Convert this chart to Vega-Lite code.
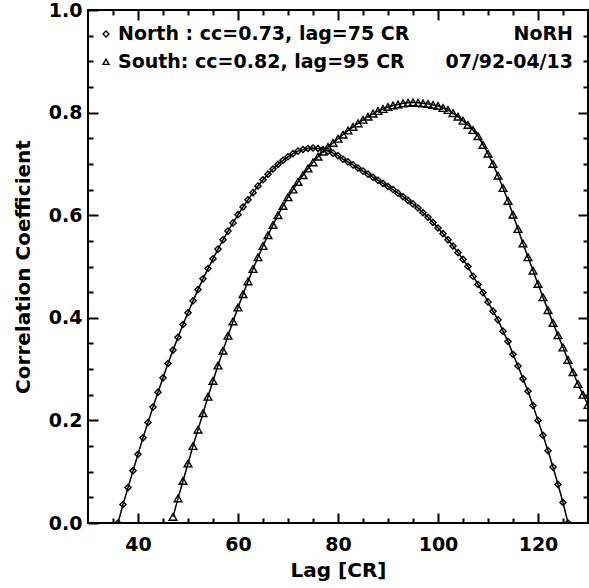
{
  "$schema": "https://vega.github.io/schema/vega-lite/v6.json",
  "width": 500,
  "height": 513,
  "autosize": {"type": "none"},
  "padding": {"left": 88, "top": 10, "right": 1, "bottom": 65},
  "background": "white",
  "config": {
    "view": {"stroke": "black", "strokeWidth": 2},
    "font": "DejaVu Sans",
    "axis": {"ticks": true, "tickOpacity": 1, "tickColor": "black", "tickWidth": 2, "tickDash": [], "tickOffset": 0, "tickBand": "center", "grid": false, "domain": false}
  },
  "datasets": {
    "curves": [
      {"series":"North","lag":36,"value":0.0},
      {"series":"North","lag":37,"value":0.036},
      {"series":"North","lag":38,"value":0.069},
      {"series":"North","lag":39,"value":0.102},
      {"series":"North","lag":40,"value":0.134},
      {"series":"North","lag":41,"value":0.166},
      {"series":"North","lag":42,"value":0.196},
      {"series":"North","lag":43,"value":0.226},
      {"series":"North","lag":44,"value":0.255},
      {"series":"North","lag":45,"value":0.283},
      {"series":"North","lag":46,"value":0.311},
      {"series":"North","lag":47,"value":0.337},
      {"series":"North","lag":48,"value":0.362},
      {"series":"North","lag":49,"value":0.387},
      {"series":"North","lag":50,"value":0.410},
      {"series":"North","lag":51,"value":0.433},
      {"series":"North","lag":52,"value":0.455},
      {"series":"North","lag":53,"value":0.476},
      {"series":"North","lag":54,"value":0.496},
      {"series":"North","lag":55,"value":0.515},
      {"series":"North","lag":56,"value":0.534},
      {"series":"North","lag":57,"value":0.552},
      {"series":"North","lag":58,"value":0.569},
      {"series":"North","lag":59,"value":0.585},
      {"series":"North","lag":60,"value":0.601},
      {"series":"North","lag":61,"value":0.616},
      {"series":"North","lag":62,"value":0.630},
      {"series":"North","lag":63,"value":0.644},
      {"series":"North","lag":64,"value":0.657},
      {"series":"North","lag":65,"value":0.669},
      {"series":"North","lag":66,"value":0.680},
      {"series":"North","lag":67,"value":0.690},
      {"series":"North","lag":68,"value":0.699},
      {"series":"North","lag":69,"value":0.707},
      {"series":"North","lag":70,"value":0.714},
      {"series":"North","lag":71,"value":0.720},
      {"series":"North","lag":72,"value":0.725},
      {"series":"North","lag":73,"value":0.728},
      {"series":"North","lag":74,"value":0.730},
      {"series":"North","lag":75,"value":0.731},
      {"series":"North","lag":76,"value":0.730},
      {"series":"North","lag":77,"value":0.728},
      {"series":"North","lag":78,"value":0.725},
      {"series":"North","lag":79,"value":0.721},
      {"series":"North","lag":80,"value":0.716},
      {"series":"North","lag":81,"value":0.709},
      {"series":"North","lag":82,"value":0.704},
      {"series":"North","lag":83,"value":0.698},
      {"series":"North","lag":84,"value":0.692},
      {"series":"North","lag":85,"value":0.686},
      {"series":"North","lag":86,"value":0.680},
      {"series":"North","lag":87,"value":0.674},
      {"series":"North","lag":88,"value":0.668},
      {"series":"North","lag":89,"value":0.662},
      {"series":"North","lag":90,"value":0.656},
      {"series":"North","lag":91,"value":0.650},
      {"series":"North","lag":92,"value":0.643},
      {"series":"North","lag":93,"value":0.636},
      {"series":"North","lag":94,"value":0.629},
      {"series":"North","lag":95,"value":0.622},
      {"series":"North","lag":96,"value":0.614},
      {"series":"North","lag":97,"value":0.605},
      {"series":"North","lag":98,"value":0.596},
      {"series":"North","lag":99,"value":0.586},
      {"series":"North","lag":100,"value":0.575},
      {"series":"North","lag":101,"value":0.564},
      {"series":"North","lag":102,"value":0.552},
      {"series":"North","lag":103,"value":0.540},
      {"series":"North","lag":104,"value":0.527},
      {"series":"North","lag":105,"value":0.514},
      {"series":"North","lag":106,"value":0.500},
      {"series":"North","lag":107,"value":0.481},
      {"series":"North","lag":108,"value":0.465},
      {"series":"North","lag":109,"value":0.449},
      {"series":"North","lag":110,"value":0.431},
      {"series":"North","lag":111,"value":0.413},
      {"series":"North","lag":112,"value":0.396},
      {"series":"North","lag":113,"value":0.374},
      {"series":"North","lag":114,"value":0.354},
      {"series":"North","lag":115,"value":0.329},
      {"series":"North","lag":116,"value":0.306},
      {"series":"North","lag":117,"value":0.281},
      {"series":"North","lag":118,"value":0.257},
      {"series":"North","lag":119,"value":0.229},
      {"series":"North","lag":120,"value":0.200},
      {"series":"North","lag":121,"value":0.171},
      {"series":"North","lag":122,"value":0.141},
      {"series":"North","lag":123,"value":0.109},
      {"series":"North","lag":124,"value":0.075},
      {"series":"North","lag":125,"value":0.040},
      {"series":"North","lag":126,"value":0.0},
      {"series":"South","lag":47,"value":0.012},
      {"series":"South","lag":48,"value":0.048},
      {"series":"South","lag":49,"value":0.082},
      {"series":"South","lag":50,"value":0.116},
      {"series":"South","lag":51,"value":0.150},
      {"series":"South","lag":52,"value":0.182},
      {"series":"South","lag":53,"value":0.214},
      {"series":"South","lag":54,"value":0.246},
      {"series":"South","lag":55,"value":0.277},
      {"series":"South","lag":56,"value":0.307},
      {"series":"South","lag":57,"value":0.336},
      {"series":"South","lag":58,"value":0.365},
      {"series":"South","lag":59,"value":0.393},
      {"series":"South","lag":60,"value":0.420},
      {"series":"South","lag":61,"value":0.446},
      {"series":"South","lag":62,"value":0.471},
      {"series":"South","lag":63,"value":0.495},
      {"series":"South","lag":64,"value":0.518},
      {"series":"South","lag":65,"value":0.540},
      {"series":"South","lag":66,"value":0.561},
      {"series":"South","lag":67,"value":0.581},
      {"series":"South","lag":68,"value":0.600},
      {"series":"South","lag":69,"value":0.618},
      {"series":"South","lag":70,"value":0.635},
      {"series":"South","lag":71,"value":0.650},
      {"series":"South","lag":72,"value":0.665},
      {"series":"South","lag":73,"value":0.678},
      {"series":"South","lag":74,"value":0.691},
      {"series":"South","lag":75,"value":0.703},
      {"series":"South","lag":76,"value":0.714},
      {"series":"South","lag":77,"value":0.724},
      {"series":"South","lag":78,"value":0.733},
      {"series":"South","lag":79,"value":0.741},
      {"series":"South","lag":80,"value":0.749},
      {"series":"South","lag":81,"value":0.757},
      {"series":"South","lag":82,"value":0.765},
      {"series":"South","lag":83,"value":0.772},
      {"series":"South","lag":84,"value":0.779},
      {"series":"South","lag":85,"value":0.786},
      {"series":"South","lag":86,"value":0.792},
      {"series":"South","lag":87,"value":0.798},
      {"series":"South","lag":88,"value":0.803},
      {"series":"South","lag":89,"value":0.807},
      {"series":"South","lag":90,"value":0.811},
      {"series":"South","lag":91,"value":0.814},
      {"series":"South","lag":92,"value":0.816},
      {"series":"South","lag":93,"value":0.818},
      {"series":"South","lag":94,"value":0.819},
      {"series":"South","lag":95,"value":0.820},
      {"series":"South","lag":96,"value":0.819},
      {"series":"South","lag":97,"value":0.818},
      {"series":"South","lag":98,"value":0.817},
      {"series":"South","lag":99,"value":0.815},
      {"series":"South","lag":100,"value":0.813},
      {"series":"South","lag":101,"value":0.809},
      {"series":"South","lag":102,"value":0.805},
      {"series":"South","lag":103,"value":0.799},
      {"series":"South","lag":104,"value":0.792},
      {"series":"South","lag":105,"value":0.784},
      {"series":"South","lag":106,"value":0.776},
      {"series":"South","lag":107,"value":0.766},
      {"series":"South","lag":108,"value":0.754},
      {"series":"South","lag":109,"value":0.737},
      {"series":"South","lag":110,"value":0.720},
      {"series":"South","lag":111,"value":0.700},
      {"series":"South","lag":112,"value":0.677},
      {"series":"South","lag":113,"value":0.653},
      {"series":"South","lag":114,"value":0.628},
      {"series":"South","lag":115,"value":0.601},
      {"series":"South","lag":116,"value":0.573},
      {"series":"South","lag":117,"value":0.545},
      {"series":"South","lag":118,"value":0.518},
      {"series":"South","lag":119,"value":0.492},
      {"series":"South","lag":120,"value":0.466},
      {"series":"South","lag":121,"value":0.440},
      {"series":"South","lag":122,"value":0.415},
      {"series":"South","lag":123,"value":0.390},
      {"series":"South","lag":124,"value":0.366},
      {"series":"South","lag":125,"value":0.342},
      {"series":"South","lag":126,"value":0.318},
      {"series":"South","lag":127,"value":0.294},
      {"series":"South","lag":128,"value":0.271},
      {"series":"South","lag":129,"value":0.250},
      {"series":"South","lag":130,"value":0.230}
    ],
    "legendSymbols": [
      {"series":"North","lag":33.6,"value":0.953},
      {"series":"South","lag":33.6,"value":0.899}
    ],
    "leftNotes": [
      {"lag":36,"value":0.953,"text":"North : cc=0.73, lag=75 CR"},
      {"lag":36,"value":0.899,"text":"South: cc=0.82, lag=95 CR"}
    ],
    "rightNotes": [
      {"lag":127,"value":0.953,"text":"NoRH"},
      {"lag":127,"value":0.899,"text":"07/92-04/13"}
    ]
  },
  "layer": [
    {
      "data": {"name": "curves"},
      "mark": {"type": "line", "color": "black", "strokeWidth": 1.5, "clip": true},
      "encoding": {
        "x": {
          "field": "lag", "type": "quantitative",
          "scale": {"domain": [30, 130], "nice": false, "zero": false},
          "axis": {
            "orient": "bottom",
            "values": [40, 60, 80, 100, 120],
            "format": "d",
            "offset": -10,
            "ticks": true, "tickSize": 10, "tickColor": "black", "tickWidth": 2, "tickOpacity": 1, "tickDash": [], "tickOffset": 0, "tickBand": "center",
            "domain": false, "grid": false,
            "labelFont": "DejaVu Sans", "labelFontSize": 19, "labelFontWeight": "bold", "labelColor": "black",
            "labelPadding": 12, "labelFlush": false, "labelOverlap": false,
            "title": "Lag [CR]", "titleFont": "DejaVu Sans", "titleFontSize": 20, "titleFontWeight": "bold", "titleColor": "black", "titlePadding": 6
          }
        },
        "y": {
          "field": "value", "type": "quantitative",
          "scale": {"domain": [0, 1], "nice": false, "zero": false},
          "axis": {
            "orient": "left",
            "values": [0, 0.2, 0.4, 0.6, 0.8, 1.0],
            "format": ".1f",
            "offset": -10,
            "ticks": true, "tickSize": 10, "tickColor": "black", "tickWidth": 2, "tickOpacity": 1, "tickDash": [], "tickOffset": 0, "tickBand": "center",
            "domain": false, "grid": false,
            "labelFont": "DejaVu Sans", "labelFontSize": 19, "labelFontWeight": "bold", "labelColor": "black",
            "labelPadding": 6, "labelFlush": false, "labelOverlap": false,
            "title": "Correlation Coefficient", "titleFont": "DejaVu Sans", "titleFontSize": 20, "titleFontWeight": "bold", "titleColor": "black", "titlePadding": 15
          }
        },
        "detail": {"field": "series"}
      }
    },
    {
      "data": {"name": "curves"},
      "mark": {"type": "point", "filled": false, "color": "black", "strokeWidth": 1.4, "clip": true, "opacity": 1},
      "encoding": {
        "x": {
          "field": "lag", "type": "quantitative",
          "axis": {
            "orient": "top",
            "values": [40, 60, 80, 100, 120],
            "labels": false,
            "offset": -10,
            "ticks": true, "tickSize": 10, "tickColor": "black", "tickWidth": 2, "tickOpacity": 1, "tickDash": [], "tickOffset": 0, "tickBand": "center",
            "domain": false, "grid": false,
            "title": null
          }
        },
        "y": {
          "field": "value", "type": "quantitative",
          "axis": {
            "orient": "right",
            "values": [0.2, 0.4, 0.6, 0.8],
            "labels": false,
            "offset": -10,
            "ticks": true, "tickSize": 10, "tickColor": "black", "tickWidth": 2, "tickOpacity": 1, "tickDash": [], "tickOffset": 0, "tickBand": "center",
            "domain": false, "grid": false,
            "title": null
          }
        },
        "shape": {
          "field": "series", "type": "nominal",
          "scale": {"domain": ["North", "South"], "range": ["diamond", "triangle-up"]},
          "legend": null
        },
        "size": {
          "field": "series", "type": "nominal",
          "scale": {"domain": ["North", "South"], "range": [38, 60]},
          "legend": null
        }
      }
    },
    {
      "data": {"name": "legendSymbols"},
      "mark": {"type": "point", "filled": false, "color": "black", "size": 36, "strokeWidth": 1.4, "opacity": 1},
      "encoding": {
        "x": {
          "field": "lag", "type": "quantitative",
          "axis": {
            "orient": "bottom",
            "values": [35,45,50,55,65,70,75,85,90,95,105,110,115,125],
            "labels": false,
            "offset": -5,
            "ticks": true, "tickSize": 5, "tickColor": "black", "tickWidth": 2, "tickOpacity": 1, "tickDash": [], "tickOffset": 0, "tickBand": "center",
            "domain": false, "grid": false,
            "title": null
          }
        },
        "y": {
          "field": "value", "type": "quantitative",
          "axis": {
            "orient": "left",
            "values": [0.05,0.1,0.15,0.25,0.3,0.35,0.45,0.5,0.55,0.65,0.7,0.75,0.85,0.9,0.95],
            "labels": false,
            "offset": -5,
            "ticks": true, "tickSize": 5, "tickColor": "black", "tickWidth": 2, "tickOpacity": 1, "tickDash": [], "tickOffset": 0, "tickBand": "center",
            "domain": false, "grid": false,
            "title": null
          }
        },
        "shape": {"field": "series", "type": "nominal", "legend": null}
      }
    },
    {
      "data": {"name": "leftNotes"},
      "mark": {"type": "text", "align": "left", "baseline": "middle", "font": "DejaVu Sans", "fontSize": 19, "fontWeight": "bold", "color": "black"},
      "encoding": {
        "x": {
          "field": "lag", "type": "quantitative",
          "axis": {
            "orient": "top",
            "values": [35,45,50,55,65,70,75,85,90,95,105,110,115,125],
            "labels": false,
            "offset": -5,
            "ticks": true, "tickSize": 5, "tickColor": "black", "tickWidth": 2, "tickOpacity": 1, "tickDash": [], "tickOffset": 0, "tickBand": "center",
            "domain": false, "grid": false,
            "title": null
          }
        },
        "y": {
          "field": "value", "type": "quantitative",
          "axis": {
            "orient": "right",
            "values": [0.05,0.1,0.15,0.25,0.3,0.35,0.45,0.5,0.55,0.65,0.7,0.75,0.85,0.9,0.95],
            "labels": false,
            "offset": -5,
            "ticks": true, "tickSize": 5, "tickColor": "black", "tickWidth": 2, "tickOpacity": 1, "tickDash": [], "tickOffset": 0, "tickBand": "center",
            "domain": false, "grid": false,
            "title": null
          }
        },
        "text": {"field": "text"}
      }
    },
    {
      "data": {"name": "rightNotes"},
      "mark": {"type": "text", "align": "right", "baseline": "middle", "font": "DejaVu Sans", "fontSize": 19, "fontWeight": "bold", "color": "black"},
      "encoding": {
        "x": {"field": "lag", "type": "quantitative", "axis": null},
        "y": {"field": "value", "type": "quantitative", "axis": null},
        "text": {"field": "text"}
      }
    }
  ],
  "resolve": {"axis": {"x": "independent", "y": "independent"}}
}
